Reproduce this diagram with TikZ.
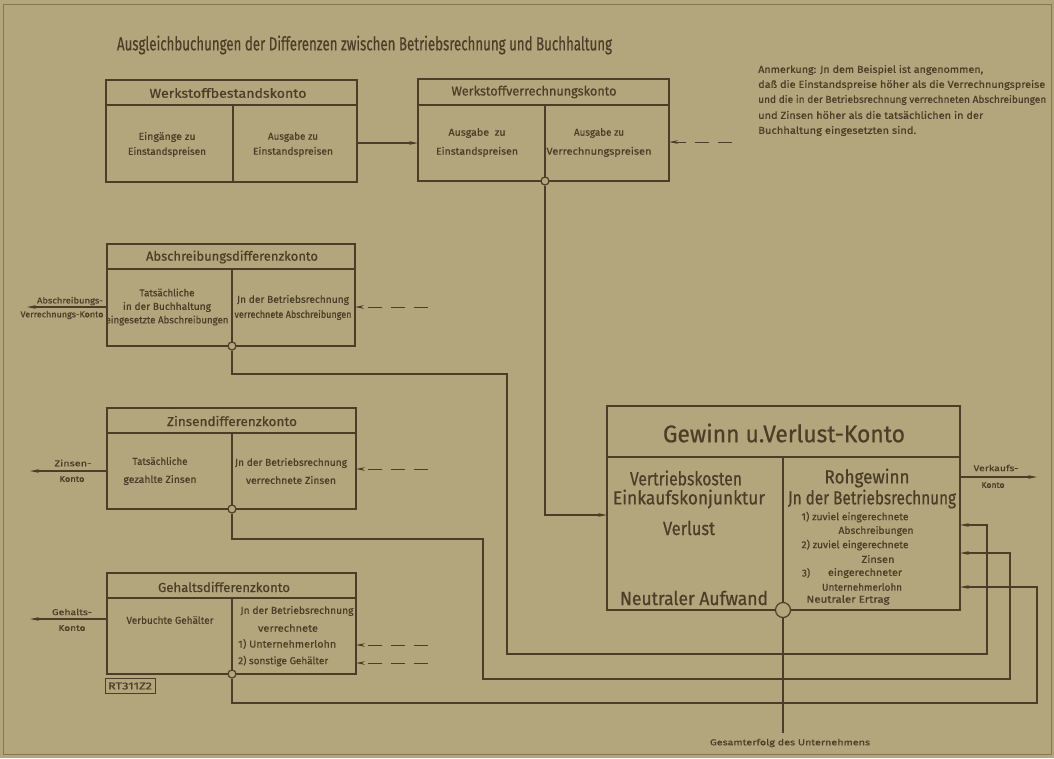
\documentclass[tikz,border=0pt]{standalone}
\usepackage{fontspec}
\setmainfont{Fira Sans}[FakeBold=0.6]
\usepackage{graphicx}
\usetikzlibrary{arrows.meta}
\definecolor{bg}{RGB}{179,166,124}
\definecolor{ink}{RGB}{74,62,40}
\definecolor{framec}{RGB}{130,118,86}
\newcommand\fw[2]{\resizebox{#1pt}{\height}{#2}}
\tikzset{
  acct/.style={draw=ink, line width=2.2pt, rectangle, inner sep=0pt, outer sep=0pt},
  sepline/.style={draw=ink, line width=2pt},
  conn/.style={draw=ink, line width=1.2pt},
  tip/.style={-{Stealth[length=9pt,width=3.6pt]}},
  dashin/.style={draw=ink, line width=1pt, dash pattern=on 14pt off 9pt, -{Stealth[length=9pt,width=3.6pt]}},
  junc/.style={circle, draw=ink, fill=bg, line width=1.2pt, inner sep=0pt, minimum size=8pt},
  txt/.style={text=ink, inner sep=0pt, align=center},
  big/.style={txt, font=\fontsize{19}{21}\selectfont},
  head/.style={txt, font=\fontsize{13}{15}\selectfont},
  small/.style={txt, font=\fontsize{10}{12}\selectfont},
  tiny/.style={txt, font=\fontsize{8.5}{10}\selectfont},
}
\begin{document}
\begin{tikzpicture}[x=1pt,y=-1pt]
\fill[bg] (0,0) rectangle (1054,758);
\useasboundingbox (0,0) rectangle (1054,758);
\draw[framec, line width=0.8pt] (3,4) rectangle (1051,754);

% title and note
\node[txt, font=\fontsize{19}{21}\selectfont] (title) at (364.5,45) {\fw{495}{Ausgleichbuchungen der Differenzen zwischen Betriebsrechnung und Buchhaltung}};
\node[small, anchor=west] (note1) at (758,70) {\fw{225}{Anmerkung: Jn dem Beispiel ist angenommen,}};
\node[small, anchor=west] (note2) at (758,85) {\fw{287}{daß die Einstandspreise höher als die Verrechnungspreise}};
\node[small, anchor=west] (note3) at (758,100) {\fw{288}{und die in der Betriebsrechnung verrechneten Abschreibungen}};
\node[small, anchor=west] (note4) at (758,115) {\fw{225}{und Zinsen höher als die tatsächlichen in der}};
\node[small, anchor=west] (note5) at (758,131) {\fw{158}{Buchhaltung eingesetzten sind.}};

% Werkstoffbestandskonto
\node[acct, minimum width=251pt, minimum height=102pt] (wb) at (231.5,131) {};
\draw[sepline] (wb.west |- 0,105) -- (wb.east |- 0,105);
\draw[sepline] (233,105) -- (wb.south -| 233,0);
\node[head] (wbt) at (228,93) {\fw{157}{Werkstoffbestandskonto}};
\node[small, font=\fontsize{10}{15}\selectfont] (wbl) at (167,144.5) {\fw{57}{Eingänge zu}\\\fw{78}{Einstandspreisen}};
\node[small, font=\fontsize{10}{15}\selectfont] (wbr) at (293,144.5) {\fw{50}{Ausgabe zu}\\\fw{80}{Einstandspreisen}};

% Werkstoffverrechnungskonto
\node[acct, minimum width=251pt, minimum height=102pt] (wv) at (543.5,130) {};
\draw[sepline] (wv.west |- 0,105) -- (wv.east |- 0,105);
\draw[sepline] (545,105) -- (wv.south -| 545,0);
\node[head] (wvt) at (534,92) {\fw{165}{Werkstoffverrechnungskonto}};
\node[small, font=\fontsize{10}{19}\selectfont] (wvl) at (477,142.5) {\fw{57}{Ausgabe\ \ zu}\\\fw{82}{Einstandspreisen}};
\node[small, font=\fontsize{10}{19}\selectfont] (wvr) at (599,142.5) {\fw{50}{Ausgabe zu}\\\fw{105}{Verrechnungspreisen}};

% Abschreibungsdifferenzkonto
\node[acct, minimum width=248pt, minimum height=102pt] (ab) at (231,295) {};
\draw[sepline] (ab.west |- 0,269) -- (ab.east |- 0,269);
\draw[sepline] (232,269) -- (ab.south -| 232,0);
\node[head] (abt) at (232,257) {\fw{172}{Abschreibungsdifferenzkonto}};
\node[small, font=\fontsize{10}{13.5}\selectfont] (abl) at (167,307) {\fw{55}{Tatsächliche}\\\fw{88}{in der Buchhaltung}\\\fw{123}{eingesetzte Abschreibungen}};
\node[small, font=\fontsize{10}{15}\selectfont] (abr) at (293,307.5) {\fw{112}{Jn der Betriebsrechnung}\\\fw{117}{verrechnete Abschreibungen}};

% Zinsendifferenzkonto
\node[acct, minimum width=249pt, minimum height=101pt] (zi) at (231.5,458.5) {};
\draw[sepline] (zi.west |- 0,433) -- (zi.east |- 0,433);
\draw[sepline] (232,433) -- (zi.south -| 232,0);
\node[head] (zit) at (232,421) {\fw{130}{Zinsendifferenzkonto}};
\node[small, font=\fontsize{10}{18}\selectfont] (zil) at (160,471) {\fw{55}{Tatsächliche}\\\fw{73}{gezahlte Zinsen}};
\node[small, font=\fontsize{10}{18}\selectfont] (zir) at (291,471) {\fw{112}{Jn der Betriebsrechnung}\\\fw{90}{verrechnete Zinsen}};

% Gehaltsdifferenzkonto
\node[acct, minimum width=249pt, minimum height=101pt] (ge) at (231.5,623.5) {};
\draw[sepline] (ge.west |- 0,598) -- (ge.east |- 0,598);
\draw[sepline] (232,598) -- (ge.south -| 232,0);
\node[head] (get) at (224,587) {\fw{132}{Gehaltsdifferenzkonto}};
\node[small] (gel) at (170,620) {\fw{87}{Verbuchte Gehälter}};
\node[small] (ger1) at (297,611) {\fw{113}{Jn der Betriebsrechnung}};
\node[small] (ger2) at (288,628) {\fw{60}{verrechnete}};
\node[small, anchor=west] (ger3) at (238,644) {\fw{98}{1) Unternehmerlohn}};
\node[small, anchor=west] (ger4) at (238,661) {\fw{90}{2) sonstige Gehälter}};
\node[small, draw=ink, line width=1pt, minimum width=50pt, minimum height=15pt] (rt) at (130,686) {\fw{44}{RT311Z2}};

% Gewinn u. Verlust-Konto
\node[acct, minimum width=353pt, minimum height=204pt] (gv) at (783.5,508) {};
\draw[sepline] (gv.west |- 0,457) -- (gv.east |- 0,457);
\draw[sepline] (783,457) -- (gv.south -| 783,0);
\node[txt, font=\fontsize{24}{26}\selectfont] (gvt) at (784,433) {\fw{242}{Gewinn u.Verlust-Konto}};
\node[big] (gvl1) at (686,478) {\fw{112}{Vertriebskosten}};
\node[big] (gvl2) at (689,499) {\fw{152}{Einkaufskonjunktur}};
\node[big] (gvl3) at (689,528) {\fw{52}{Verlust}};
\node[big] (gvl4) at (694,598) {\fw{148}{Neutraler Aufwand}};
\node[big] (gvr1) at (867,478) {\fw{85}{Rohgewinn}};
\node[big] (gvr2) at (872,499) {\fw{168}{Jn der Betriebsrechnung}};
\node[small] (gvr3) at (855,517) {\fw{107}{1) zuviel eingerechnete}};
\node[small] (gvr4) at (876,531) {\fw{75}{Abschreibungen}};
\node[small] (gvr5) at (855,545) {\fw{107}{2) zuviel eingerechnete}};
\node[small] (gvr6) at (878,559) {\fw{33}{Zinsen}};
\node[small] (gvr7) at (806,573) {3)};
\node[small] (gvr8) at (865,573) {\fw{74}{eingerechneter}};
\node[small] (gvr9) at (862,587) {\fw{80}{Unternehmerlohn}};
\node[small] (gvr10) at (848,600) {\fw{83}{Neutraler Ertrag}};

% side labels
\node[tiny] (abs1) at (70,301) {\fw{66}{Abschreibungs-}};
\node[tiny] (abs2) at (62,315) {\fw{83}{Verrechnungs-Konto}};
\node[tiny] (zik1) at (73,463) {\fw{37}{Zinsen-}};
\node[tiny] (zik2) at (72,479) {\fw{25}{Konto}};
\node[tiny] (gek1) at (72,612) {\fw{40}{Gehalts-}};
\node[tiny] (gek2) at (72,628) {\fw{27}{Konto}};
\node[tiny] (vk1) at (996,468) {\fw{45}{Verkaufs-}};
\node[tiny] (vk2) at (993,485) {\fw{23}{Konto}};
\node[tiny] (gesamt) at (790,743) {\fw{160}{Gesamterfolg des Unternehmens}};

% junctions
\node[junc] (j1) at (545,181) {};
\node[junc] (j3) at (232,346) {};
\node[junc] (j4) at (232,509) {};
\node[junc] (j5) at (232,674) {};
\node[junc, minimum size=15pt] (jgv) at (783,610) {};

% connectors
\draw[conn, tip] (wb.east |- 0,143) -- (wv.west |- 0,143);
\coordinate (d1) at (732,142); \draw[dashin] (d1) -- (wv.east |- 0,142);
\coordinate (d2) at (428,307); \draw[dashin] (d2) -- (ab.east |- 0,307);
\coordinate (d3) at (428,469); \draw[dashin] (d3) -- (zi.east |- 0,469);
\coordinate (d4) at (428,645); \draw[dashin] (d4) -- (ge.east |- 0,645);
\coordinate (d5) at (428,663); \draw[dashin] (d5) -- (ge.east |- 0,663);

\coordinate (abx) at (27,307); \draw[conn, tip] (ab.west |- 0,307) -- (abx);
\coordinate (zix) at (30,471); \draw[conn, tip] (zi.west |- 0,471) -- (zix);
\coordinate (gex) at (30,619); \draw[conn, tip] (ge.west |- 0,619) -- (gex);
\coordinate (vkx) at (1037,477); \draw[conn, tip] (gv.east |- 0,477) -- (vkx);

\draw[conn, tip] (j1.south) |- (gv.west |- 0,515);
\draw[conn, tip] (j3.south) |- (507,374) |- (987,654) |- (gv.east |- 0,525);
\draw[conn, tip] (j4.south) |- (483,539) |- (1010,679) |- (gv.east |- 0,553);
\draw[conn, tip] (j5.south) |- (1037,703) |- (gv.east |- 0,587);
\coordinate (gend) at (783,733);
\draw[conn] (jgv.south) -- (gend);
\end{tikzpicture}
\end{document}
